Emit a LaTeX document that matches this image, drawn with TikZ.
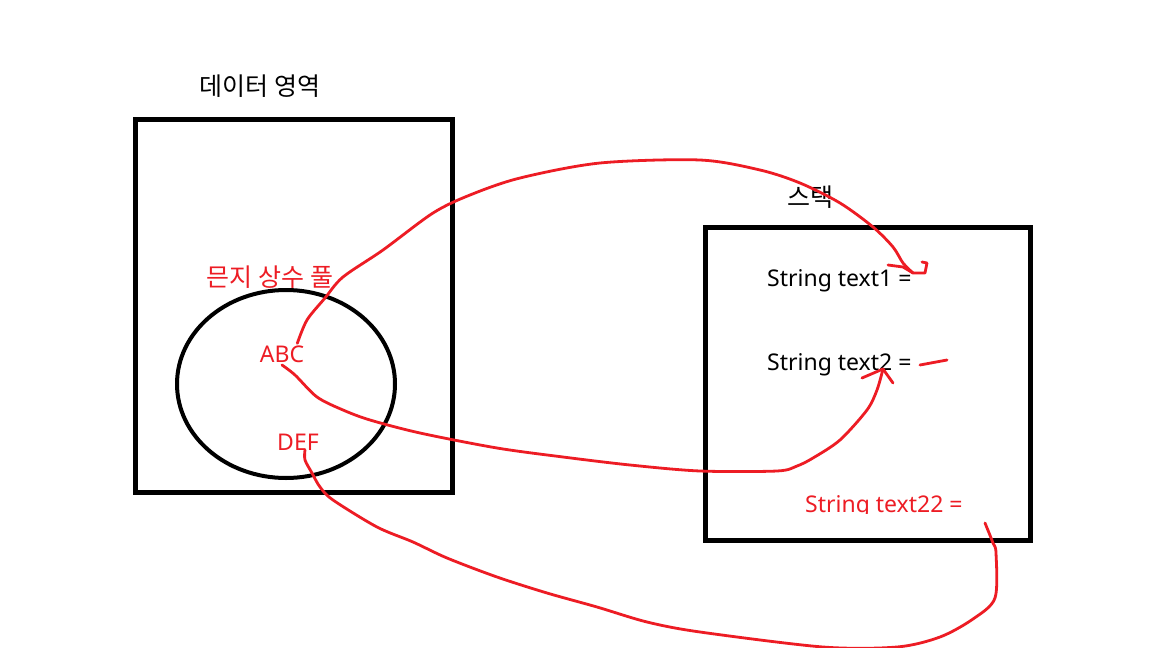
\documentclass[tikz,border=0pt]{standalone}
\usepackage{fontspec}
\setmainfont{Noto Sans}
\newfontfamily\krfont{Noto Sans CJK KR}
\usetikzlibrary{shapes.geometric, positioning}
\definecolor{paintred}{RGB}{237,28,36}
\tikzstyle{box} = [draw, line width=5pt, rectangle, inner sep=0pt]
\tikzstyle{pool} = [draw, line width=4pt, ellipse, inner sep=0pt]
\tikzstyle{redpen} = [paintred, line width=2.8pt, line cap=round, line join=round]
\tikzstyle{word} = [inner sep=0pt, font=\fontsize{23}{27}\selectfont]
\tikzstyle{hangul} = [inner sep=0pt, font=\fontsize{25}{29}\selectfont\krfont]

\begin{document}
\begin{tikzpicture}[x=1pt,y=-1pt]
  \useasboundingbox[fill=white] (0,0) rectangle (1152,648);

  % data area
  \node[box, minimum width=317pt, minimum height=373pt] (dataBox) at (293.5,305.5) {};
  \node[hangul] (dataLbl) at (260,86) {데이터\ 영역};
  \node[pool, minimum width=218pt, minimum height=188pt] (constPool) at (286,384) {};
  \node[hangul, text=paintred] (poolLbl) at (270,277) {믄지\ 상수\ 풀};
  \node[word, text=paintred] (abc) at (282,354) {ABC};
  \node[word, text=paintred] (def) at (298,442) {DEF};

  % stack
  \node[box, minimum width=325pt, minimum height=313pt] (stackBox) at (867.5,383.5) {};
  \node[hangul] (stackLbl) at (810,197) {스택};
  \node[word, anchor=base west] (text1) at (767,286) {String text1 =};
  \node[word, anchor=base west] (text2) at (767,370) {String text2 =};
  \begin{scope}
    \clip (780,480) rectangle (1000,513);
    \node[word, anchor=base west, text=paintred] (text22) at (805,512) {String text22 =};
  \end{scope}

  \coordinate (tip1) at (913,273);
  \coordinate (tip2) at (883,369);
  \coordinate (end22) at (985,523);

  % ABC -> text1
  \draw[redpen] plot[smooth, tension=0.5] coordinates {([xshift=-7pt,yshift=2pt]abc.north east) (307,320)
    (325,298) (343,277) (383,250) (433,213) (470,195) (520,178) (600,163) (700,160)
    (760,170) (800,183) (840,203) (873,227) (893,247) (903,263) (tip1)};
  \draw[redpen] (tip1) -- (925,273) -- (927,263) -- (922,262);
  \draw[redpen] (888,265) -- (903,267) -- (tip1);

  % ABC -> text2
  \draw[redpen] plot[smooth, tension=0.5] coordinates {([yshift=-11pt]abc.center) (295,375)
    (317,397) (343,410) (370,420) (420,433) (497,448) (563,457) (630,465)
    (700,471) (777,471) (797,466) (813,458) (840,440) (867,410) (877,390) (tip2)};
  \draw[redpen] (862,378) -- (tip2) -- (893,383);
  \draw[redpen] (920,365) -- (947,360);

  % DEF -> text22
  \draw[redpen] plot[smooth, tension=0.5] coordinates {([xshift=7pt,yshift=-8pt]def.center) (305,460)
    (312,473) (320,487) (333,500) (377,527) (413,542) (447,558) (497,577) (547,593)
    (597,607) (647,622) (700,632) (823,647) (897,647) (940,637) (973,619) (995,598)
    (996,553) (993,543) (end22)};
\end{tikzpicture}
\end{document}
